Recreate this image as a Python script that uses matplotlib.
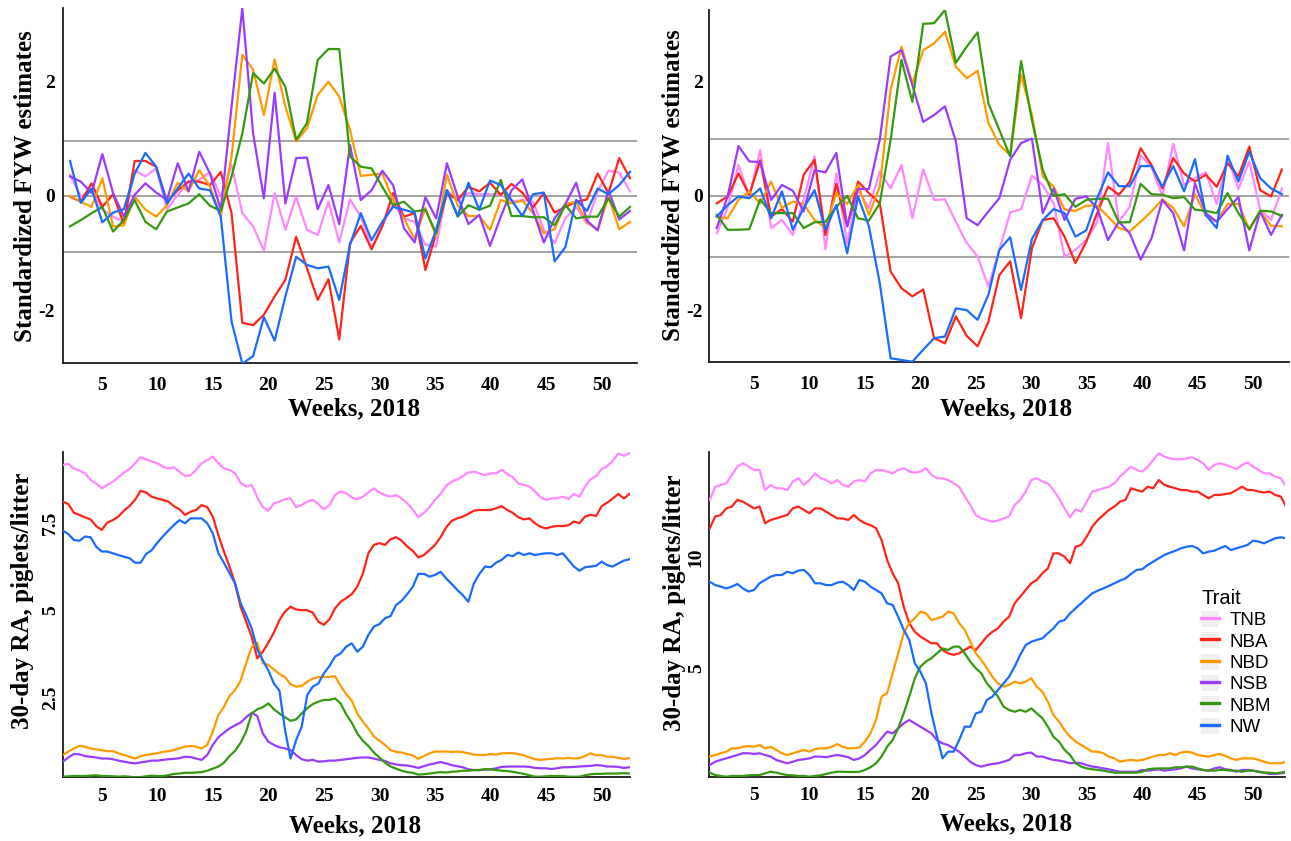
import numpy as np
import matplotlib
matplotlib.use("Agg")
import matplotlib.pyplot as plt
from matplotlib.lines import Line2D
from matplotlib.patches import Patch
from matplotlib.legend_handler import HandlerTuple

plt.rcParams["font.family"] = ["Liberation Serif", "DejaVu Serif"]
plt.rcParams["font.weight"] = "bold"
plt.rcParams["axes.unicode_minus"] = False

# ---------------- data ----------------
traits = ["TNB", "NBA", "NBD", "NSB", "NBM", "NW"]
trait_colors = ["#FF88FF", "#FF2419", "#FF9A00", "#9B3BFF", "#35990F", "#1A6BFF"]

week_ticks = [5, 10, 15, 20, 25, 30, 35, 40, 45, 50]
week_tick_labels = ["5", "10", "15", "20", "25", "30", "35", "40", "45", "50"]
fyw_yticks = [-2, 0, 2]
fyw_ytick_labels = ["-2", "0", "2"]
ra_left_yticks = [2.5, 5, 7.5]
ra_left_ytick_labels = ["2.5", "5", "7.5"]
ra_right_yticks = [5, 10]
ra_right_ytick_labels = ["5", "10"]

# weekly standardized FYW estimates (53 weeks)
fyw_weeks_left = np.linspace(2.15, 52.55, 53)
fyw_weeks_right = np.linspace(1.64, 52.6, 53)

tl_tnb = [0.37,-0.01,0.10,-0.24,-0.36,-0.45,0.45,0.34,0.48,-0.23,0.02,0.25,0.28,0.42,-0.01,0.54,-0.30,-0.53,-0.95,0.05,-0.59,-0.01,-0.59,-0.68,-0.10,
          -0.81,-0.06,-0.36,-0.91,-0.51,-0.14,-0.39,-0.45,-0.85,-0.88,0.10,-0.07,0.05,0.03,0.03,0.03,-0.10,-0.07,-0.10,-0.59,-0.82,-0.39,-0.19,-0.48,0.08,0.44,0.41,0.08]
tl_nba = [-0.01,-0.10,0.22,-0.19,0.03,-0.49,0.61,0.61,0.51,-0.10,0.10,0.25,0.25,0.19,0.42,-0.30,-2.21,-2.25,-2.07,-1.75,-1.46,-0.71,-1.26,-1.81,-1.45,
          -2.50,-0.82,-0.52,-0.93,-0.53,0.05,-0.36,-0.30,-1.29,-0.65,0.05,-0.07,0.16,0.08,0.23,0.02,0.21,0.06,-0.20,0.05,-0.29,-0.19,-0.10,-0.06,0.39,0.05,0.66,0.31]
tl_nbd = [0.00,-0.10,-0.19,0.31,-0.53,-0.51,-0.01,-0.24,-0.36,-0.16,0.23,0.08,0.45,0.16,-0.36,0.69,2.46,2.20,1.41,2.38,1.56,0.95,1.18,1.76,1.99,
          1.73,1.15,0.35,0.37,0.39,-0.07,-0.39,-0.75,-0.21,-0.71,0.37,-0.16,-0.35,-0.35,-0.59,-0.07,-0.13,-0.08,-0.30,-0.65,-0.58,-0.14,-0.10,-0.46,-0.59,-0.01,-0.58,-0.45]
tl_nsb = [0.34,0.25,0.05,0.73,0.05,-0.36,0.02,0.22,0.06,-0.07,0.57,0.08,0.77,0.39,-0.24,1.56,3.27,1.09,-0.04,1.80,-0.13,0.66,0.67,-0.23,0.19,
          -0.49,0.89,-0.07,0.10,0.44,0.19,-0.56,-0.81,-0.02,-0.39,0.57,-0.01,-0.49,-0.33,-0.87,-0.36,0.10,0.29,-0.26,-0.81,-0.39,-0.14,0.23,-0.43,-0.60,0.10,-0.41,-0.26]
tl_nbm = [-0.53,-0.42,-0.30,-0.19,-0.62,-0.42,-0.07,-0.45,-0.58,-0.27,-0.20,-0.13,0.03,-0.17,-0.26,0.34,1.09,2.14,1.96,2.22,1.90,0.98,1.27,2.37,2.56,
          2.56,0.69,0.51,0.48,0.16,-0.16,-0.10,-0.27,-0.24,-0.65,0.10,-0.36,-0.16,-0.24,-0.17,0.28,-0.35,-0.35,-0.37,-0.37,-0.51,-0.16,-0.39,-0.36,-0.36,-0.04,-0.36,-0.19]
tl_nw = [0.61,-0.12,0.13,-0.46,-0.29,-0.23,0.39,0.75,0.51,-0.13,0.13,0.39,0.13,0.10,-0.36,-2.19,-2.92,-2.79,-2.11,-2.52,-1.75,-1.06,-1.20,-1.26,-1.23,
         -1.81,-0.85,-0.30,-0.77,-0.45,-0.19,-0.24,-0.29,-1.09,-0.59,0.10,-0.35,0.23,-0.24,0.27,0.19,-0.07,-0.35,0.03,0.06,-1.14,-0.89,-0.07,-0.26,0.13,0.03,0.19,0.42]

tr_tnb = [-0.65,-0.21,0.54,-0.01,0.80,-0.56,-0.42,-0.68,-0.07,0.69,-0.93,0.39,-0.82,0.10,-0.21,0.42,0.13,0.54,-0.39,0.46,-0.07,-0.06,-0.45,-0.82,-1.06,
          -1.58,-0.94,-0.29,-0.23,0.35,0.19,-0.13,-1.06,-0.94,-0.77,-0.46,0.92,-0.45,-0.19,0.71,0.51,-0.01,0.91,0.19,0.31,0.41,-0.14,0.69,0.12,0.60,-0.24,-0.42,0.13]
tr_nba = [-0.13,-0.01,0.39,0.02,0.62,-0.36,-0.23,-0.45,0.37,0.63,-0.68,0.21,-0.53,0.25,0.05,-0.13,-1.32,-1.61,-1.75,-1.63,-2.48,-2.57,-2.10,-2.44,-2.62,
          -2.19,-1.38,-1.14,-2.13,-0.91,-0.42,-0.39,-0.71,-1.17,-0.80,-0.30,0.16,0.02,0.25,0.83,0.54,0.13,0.66,0.39,0.25,0.37,0.16,0.57,0.34,0.86,0.10,-0.01,0.46]
tr_nbd = [-0.36,-0.39,-0.07,0.08,-0.13,0.25,-0.21,-0.10,-0.14,-0.42,-0.56,0.05,-0.14,0.19,-0.33,0.16,1.85,2.60,1.96,2.54,2.66,2.86,2.25,2.05,2.18,
          1.27,0.89,0.71,2.11,1.41,0.34,0.16,-0.24,-0.26,-0.17,-0.17,-0.36,-0.56,-0.62,-0.45,-0.27,-0.06,-0.21,-0.53,0.03,-0.35,-0.45,-0.14,-0.14,-0.59,-0.27,-0.52,-0.53]
tr_nsb = [-0.56,-0.01,0.87,0.60,0.59,-0.07,0.19,0.09,-0.27,0.45,0.41,0.75,-0.53,0.12,0.12,0.98,2.43,2.54,1.93,1.29,1.41,1.56,0.95,-0.39,-0.51,
          -0.27,-0.04,0.63,0.92,1.00,-0.30,0.13,-0.42,-0.05,-0.01,-0.21,-0.77,-0.45,-0.65,-1.11,-0.74,-0.07,-0.30,-0.95,0.22,-0.30,-0.45,-0.23,-0.02,-0.95,-0.27,-0.68,-0.33]
tr_nbm = [-0.33,-0.59,-0.59,-0.58,-0.06,-0.30,-0.30,-0.30,-0.56,-0.46,-0.45,-0.19,0.00,-0.39,-0.43,-0.13,0.98,2.37,1.64,3.00,3.01,3.24,2.32,2.60,2.85,
          1.61,1.15,0.69,2.35,1.32,0.45,0.00,0.03,-0.19,-0.07,-0.05,-0.05,-0.46,-0.46,0.21,0.03,0.02,-0.04,-0.02,-0.24,-0.26,-0.30,0.05,-0.30,-0.58,-0.26,-0.27,-0.35]
tr_nw = [-0.36,-0.16,-0.01,-0.04,0.13,-0.39,0.08,-0.59,-0.21,0.10,-0.59,-0.16,-1.00,-0.01,-0.53,-1.52,-2.83,-2.86,-2.89,-2.68,-2.48,-2.45,-1.96,-1.99,-2.16,
         -1.72,-0.94,-0.72,-1.64,-0.75,-0.42,-0.23,-0.30,-0.71,-0.60,-0.04,0.41,0.17,0.17,0.52,0.52,0.16,0.52,0.08,0.64,-0.33,-0.56,0.70,0.25,0.77,0.31,0.13,0.03]

# 30-day rolling averages, piglets/litter (read every half week)
ra_weeks_left = np.arange(1.5, 52.51, 0.5)
ra_weeks_right = np.arange(1.0, 53.01, 0.5)

bl_tnb = [9.16,9.19,9.06,9.00,8.92,8.73,8.63,8.49,8.59,8.68, 8.81,8.94,9.04,9.21,9.38,9.32,9.26,9.21,9.11,9.06,
          9.09,8.97,8.84,8.87,9.02,9.21,9.30,9.40,9.21,9.06, 9.02,8.92,8.65,8.54,8.59,8.23,7.95,7.85,8.06,8.11,
          8.18,8.20,7.95,8.01,8.11,8.16,8.04,7.89,8.01,8.30, 8.40,8.35,8.23,8.18,8.25,8.37,8.49,8.37,8.30,8.25,
          8.30,8.20,8.06,7.89,7.66,7.79,7.95,8.16,8.33,8.56, 8.68,8.75,8.84,8.94,8.97,8.92,8.87,8.92,8.92,9.02,
          8.90,8.81,8.63,8.59,8.54,8.40,8.23,8.16,8.20,8.21, 8.25,8.18,8.33,8.25,8.54,8.75,8.84,9.04,9.13,9.28,
          9.49,9.42,9.50]
bl_nba = [8.11,8.04,7.79,7.73,7.66,7.60,7.41,7.30,7.51,7.58, 7.68,7.85,7.98,8.16,8.42,8.37,8.25,8.20,8.16,8.11,
          7.98,7.89,7.73,7.82,7.87,8.01,7.95,7.68,7.15,6.68, 6.25,5.77,5.10,4.67,4.24,3.62,3.81,4.07,4.36,4.72,
          4.96,5.10,5.02,5.00,5.00,4.93,4.67,4.58,4.74,5.05, 5.24,5.34,5.46,5.67,6.04,6.63,6.87,6.92,6.87,7.03,
          7.09,6.99,6.82,6.70,6.51,6.58,6.72,6.87,7.09,7.37, 7.56,7.63,7.68,7.76,7.85,7.87,7.87,7.87,7.92,7.98,
          7.87,7.79,7.66,7.60,7.63,7.49,7.39,7.34,7.39,7.41, 7.41,7.43,7.54,7.49,7.68,7.73,7.70,7.98,8.08,8.20,
          8.33,8.20,8.33]
bl_nbd = [0.85,0.95,1.04,1.11,1.09,1.04,1.01,0.99,0.96,0.96, 0.90,0.85,0.80,0.75,0.82,0.85,0.88,0.90,0.94,0.96,
          0.99,1.04,1.09,1.11,1.09,1.04,1.14,1.52,2.00,2.23, 2.54,2.71,2.98,3.48,3.94,4.07,3.48,3.43,3.30,3.17,
          3.08,2.88,2.81,2.83,2.95,3.04,3.08,3.09,3.09,3.11, 2.83,2.60,2.41,2.04,1.81,1.61,1.38,1.26,1.14,0.99,
          0.94,0.92,0.88,0.84,0.74,0.82,0.90,0.95,0.95,0.95, 0.94,0.95,0.93,0.90,0.86,0.85,0.85,0.88,0.86,0.90,
          0.90,0.90,0.88,0.84,0.78,0.73,0.71,0.73,0.74,0.76, 0.75,0.77,0.75,0.76,0.82,0.90,0.84,0.85,0.80,0.80,
          0.77,0.74,0.76]
bl_nsb = [0.66,0.78,0.88,0.87,0.82,0.80,0.78,0.75,0.75,0.73, 0.69,0.66,0.63,0.61,0.64,0.66,0.69,0.69,0.71,0.73,
          0.74,0.76,0.80,0.79,0.75,0.71,0.85,1.14,1.36,1.49, 1.61,1.70,1.78,1.93,2.06,1.97,1.47,1.23,1.14,1.07,
          1.04,0.99,0.85,0.73,0.69,0.71,0.66,0.67,0.69,0.69, 0.71,0.73,0.75,0.77,0.78,0.78,0.75,0.71,0.68,0.61,
          0.58,0.56,0.55,0.52,0.48,0.53,0.58,0.61,0.65,0.61, 0.56,0.53,0.50,0.44,0.42,0.42,0.43,0.44,0.47,0.51,
          0.52,0.52,0.52,0.52,0.51,0.48,0.47,0.47,0.45,0.47, 0.50,0.50,0.51,0.52,0.53,0.54,0.56,0.55,0.52,0.52,
          0.51,0.48,0.50]
bl_nbm = [0.23,0.24,0.25,0.25,0.25,0.26,0.27,0.25,0.25,0.24, 0.23,0.24,0.23,0.21,0.22,0.24,0.26,0.25,0.25,0.27,
          0.31,0.32,0.34,0.34,0.35,0.36,0.40,0.46,0.52,0.63, 0.82,0.97,1.20,1.52,2.04,2.16,2.22,2.33,2.16,2.04,
          1.93,1.83,1.87,2.04,2.19,2.31,2.38,2.43,2.43,2.47, 2.33,2.02,1.78,1.47,1.26,1.11,0.92,0.78,0.63,0.52,
          0.46,0.40,0.36,0.34,0.29,0.30,0.32,0.34,0.36,0.35, 0.37,0.38,0.40,0.40,0.42,0.42,0.45,0.44,0.42,0.40,
          0.39,0.37,0.34,0.31,0.27,0.23,0.23,0.24,0.25,0.25, 0.25,0.23,0.23,0.23,0.27,0.30,0.31,0.31,0.32,0.32,
          0.32,0.33,0.32]
bl_nw = [7.28,7.18,7.01,6.99,7.11,7.09,6.82,6.68,6.68,6.63, 6.58,6.53,6.49,6.36,6.36,6.61,6.72,6.93,7.11,7.28,
         7.44,7.58,7.49,7.63,7.63,7.63,7.49,7.20,6.63,6.36, 6.06,5.77,5.20,4.86,4.48,3.88,3.57,3.27,2.90,2.69,
         1.57,0.75,1.28,1.66,2.57,2.81,2.90,3.19,3.40,3.67, 3.76,3.95,4.05,3.81,3.95,4.29,4.53,4.60,4.77,4.83,
         5.15,5.27,5.46,5.67,6.04,6.04,5.96,6.01,6.10,5.91, 5.75,5.58,5.43,5.24,5.77,6.04,6.25,6.23,6.36,6.44,
         6.58,6.55,6.65,6.58,6.63,6.58,6.61,6.63,6.63,6.58, 6.63,6.44,6.25,6.13,6.23,6.25,6.27,6.39,6.29,6.25,
         6.34,6.42,6.46]

br_tnb = [12.56,13.15,13.23,13.30,13.68,14.05,14.20,14.05,13.90,13.90, 13.00,13.23,13.08,13.08,13.00,13.38,13.53,13.23,13.45,13.75,
          13.53,13.45,13.30,13.45,13.23,13.15,13.38,13.45,13.38,13.75, 13.90,13.90,13.83,13.75,13.90,13.98,13.83,13.78,13.83,13.98,
          13.68,13.53,13.53,13.45,13.30,13.15,12.71,12.33,11.88,11.73, 11.66,11.58,11.63,11.73,11.81,12.33,12.56,12.93,13.45,13.53,
          13.38,13.30,13.00,12.63,12.18,11.78,12.14,12.03,12.48,12.93, 13.00,13.08,13.15,13.30,13.60,13.83,14.05,13.90,13.83,14.05,
          14.35,14.65,14.50,14.42,14.38,14.38,14.42,14.47,14.35,14.20, 13.90,14.13,14.20,14.13,14.05,13.93,14.13,14.23,14.05,13.90,
          13.75,13.75,13.60,13.53,13.15]
br_nba = [11.29,11.81,11.88,12.18,12.26,12.56,12.48,12.33,12.18,12.26, 11.51,11.66,11.73,11.81,11.88,12.18,12.26,12.11,11.96,12.18,
          12.18,12.03,11.88,11.73,11.73,11.66,11.88,11.66,11.51,11.43, 11.29,10.76,9.87,9.27,8.82,7.77,7.03,6.65,6.43,6.28,
          6.13,6.13,5.83,5.68,5.61,5.68,5.83,5.98,5.83,6.13, 6.43,6.65,6.80,7.10,7.32,7.92,8.22,8.52,8.82,8.97,
          9.27,9.49,10.16,10.16,10.01,9.72,10.46,10.54,10.91,11.36, 11.66,11.88,12.11,12.26,12.48,12.56,13.08,13.00,12.93,13.15,
          13.08,13.45,13.23,13.15,13.08,13.00,13.00,12.93,12.93,12.78, 12.63,12.78,12.78,12.82,12.86,13.00,13.15,13.00,13.00,12.93,
          12.89,12.93,12.78,12.71,12.23]
br_nbd = [1.05,1.12,1.20,1.27,1.42,1.42,1.49,1.52,1.49,1.57, 1.42,1.49,1.35,1.20,1.12,1.20,1.27,1.35,1.27,1.38,
          1.42,1.42,1.49,1.61,1.49,1.42,1.42,1.46,1.72,2.09, 2.69,3.74,3.89,4.78,5.68,6.58,7.03,7.25,7.55,7.47,
          7.17,7.25,7.32,7.55,7.47,7.03,6.73,6.20,5.68,5.38, 5.01,4.63,4.33,4.19,4.26,4.41,4.33,4.41,4.56,4.19,
          3.96,3.51,2.91,2.62,2.24,1.94,1.72,1.57,1.42,1.27, 1.27,1.20,1.05,0.97,0.82,0.87,0.90,0.87,0.90,0.97,
          1.05,1.12,1.12,1.20,1.12,1.23,1.27,1.23,1.12,1.08, 1.05,1.12,1.17,1.08,0.97,0.90,0.97,0.97,0.97,0.90,
          0.82,0.75,0.75,0.75,0.82]
br_nsb = [0.67,0.82,0.90,0.97,1.05,1.12,1.20,1.20,1.17,1.20, 1.12,1.05,0.90,0.82,0.75,0.82,0.90,0.93,0.97,1.05,
          1.05,1.02,1.08,1.12,1.08,1.02,0.90,0.97,1.12,1.35, 1.57,1.87,2.17,2.09,2.32,2.54,2.69,2.54,2.39,2.24,
          2.09,1.79,1.64,1.57,1.42,1.27,1.05,0.82,0.67,0.60, 0.67,0.72,0.75,0.82,0.90,1.12,1.12,1.20,1.23,1.05,
          1.05,0.97,0.90,0.87,0.82,0.75,0.78,0.75,0.67,0.60, 0.57,0.52,0.48,0.42,0.37,0.37,0.37,0.37,0.45,0.42,
          0.45,0.48,0.42,0.45,0.48,0.52,0.60,0.52,0.48,0.45, 0.42,0.52,0.57,0.48,0.45,0.37,0.45,0.45,0.42,0.37,
          0.33,0.27,0.27,0.30,0.33]
br_nbm = [0.33,0.22,0.18,0.15,0.18,0.18,0.18,0.21,0.22,0.22, 0.30,0.37,0.33,0.27,0.22,0.21,0.18,0.18,0.15,0.18,
          0.21,0.27,0.33,0.37,0.37,0.36,0.36,0.37,0.45,0.57, 0.75,1.05,1.49,1.79,2.32,2.99,3.74,4.56,5.08,5.31,
          5.46,5.68,5.90,5.83,5.98,5.98,5.68,5.31,5.01,4.78, 4.33,4.04,3.74,3.29,3.14,3.06,3.14,3.06,3.21,2.99,
          2.77,2.39,1.94,1.72,1.35,1.12,0.75,0.60,0.52,0.48, 0.45,0.42,0.37,0.33,0.33,0.33,0.33,0.33,0.37,0.48,
          0.51,0.52,0.52,0.52,0.57,0.57,0.60,0.60,0.52,0.45, 0.42,0.42,0.45,0.45,0.42,0.42,0.37,0.42,0.42,0.37,
          0.33,0.33,0.30,0.33,0.37]
br_nw = [8.89,8.74,8.67,8.59,8.67,8.79,8.59,8.45,8.52,8.82, 8.97,9.12,9.19,9.19,9.34,9.27,9.39,9.42,9.19,8.82,
         8.82,8.74,8.74,8.85,8.89,8.74,8.52,8.97,8.89,8.67, 8.52,8.37,7.92,7.85,7.32,6.73,6.28,5.23,4.86,4.33,
         2.99,1.94,0.97,1.27,1.27,1.79,2.39,2.39,2.99,3.06, 3.59,3.74,4.04,4.33,4.63,5.08,5.61,6.05,6.20,6.28,
         6.35,6.58,6.80,7.10,7.17,7.47,7.70,7.92,8.15,8.37, 8.49,8.59,8.70,8.82,8.94,9.04,9.24,9.42,9.45,9.64,
         9.79,9.94,10.09,10.19,10.28,10.39,10.46,10.49,10.39,10.16, 10.24,10.28,10.39,10.49,10.31,10.39,10.46,10.54,10.73,10.69,
         10.61,10.73,10.84,10.88,10.84]

fyw_band_left = [0.95, -0.98]
fyw_band_right = [0.99, -1.06]

# ---------------- figure ----------------
W, H = 1291, 841
fig = plt.figure(figsize=(W / 100, H / 100), dpi=100)


def px_axes(left, top, right, bottom):
    return fig.add_axes([left / W, 1 - bottom / H, (right - left) / W, (bottom - top) / H])


def style_axes(ax, xlim, ylim, yticks, ylabels, ylabel_text, rot, xpad, ypad,
               xlab_pos, ylab_pos):
    ax.set_xlim(*xlim)
    ax.set_ylim(*ylim)
    for s in ("top", "right"):
        ax.spines[s].set_visible(False)
    for s in ("left", "bottom"):
        ax.spines[s].set_color("#1a1a1a")
        ax.spines[s].set_linewidth(1.3)
    ax.set_xticks(week_ticks, week_tick_labels, fontsize=14, fontweight="bold")
    if rot:
        ax.set_yticks(yticks, ylabels, fontsize=14, fontweight="bold", rotation=90, va="center")
    else:
        ax.set_yticks(yticks, ylabels, fontsize=14, fontweight="bold")
    ax.tick_params(length=0)
    ax.tick_params(axis="x", pad=xpad)
    ax.tick_params(axis="y", pad=ypad)
    ax.set_xlabel("Weeks, 2018", fontsize=18, fontweight="bold")
    ax.set_ylabel(ylabel_text, fontsize=18, fontweight="bold")
    ax.xaxis.set_label_coords(*xlab_pos)
    ax.yaxis.set_label_coords(*ylab_pos)
    ax.patch.set_alpha(0)


def draw_series(ax, x, series):
    for vals, col in zip(series, trait_colors):
        ax.plot(x, vals, color=col, lw=1.6, zorder=3, solid_joinstyle="round")


# top-left
ax_tl = px_axes(63.3, 8, 637, 363.3)
for v in fyw_band_left + [0]:
    ax_tl.axhline(v, color="#8a8a8a", lw=1.1, zorder=1)
draw_series(ax_tl, fyw_weeks_left, [tl_tnb, tl_nba, tl_nbd, tl_nsb, tl_nbm, tl_nw])
style_axes(ax_tl, (1.544, 53.18), (-2.915, 3.275), fyw_yticks, fyw_ytick_labels,
           "Standardized FYW estimates", False, 10, 6, (0.507, -0.095), (-0.046, 0.50))

# top-right
ax_tr = px_axes(709.3, 10, 1289, 362.3)
for v in fyw_band_right + [0]:
    ax_tr.axhline(v, color="#8a8a8a", lw=1.1, zorder=1)
draw_series(ax_tr, fyw_weeks_right, [tr_tnb, tr_nba, tr_nbd, tr_nsb, tr_nbm, tr_nw])
style_axes(ax_tr, (0.969, 53.24), (-2.90, 3.24), fyw_yticks, fyw_ytick_labels,
           "Standardized FYW estimates", False, 10, 4.5, (0.5115, -0.0985), (-0.0425, 0.502))

# bottom-left
ax_bl = px_axes(63.3, 451.7, 630, 777.3)
draw_series(ax_bl, ra_weeks_left, [bl_tnb, bl_nba, bl_nbd, bl_nsb, bl_nbm, bl_nw])
style_axes(ax_bl, (1.544, 52.55), (0.212, 9.54), ra_left_yticks, ra_left_ytick_labels,
           "30-day RA, piglets/litter", True, 7.7, 3.3, (0.514, -0.113), (-0.052, 0.542))

# bottom-right
ax_br = px_axes(709.3, 451.7, 1285, 776.7)
draw_series(ax_br, ra_weeks_right, [br_tnb, br_nba, br_nbd, br_nsb, br_nbm, br_nw])
style_axes(ax_br, (0.969, 52.88), (0.148, 14.72), ra_right_yticks, ra_right_ytick_labels,
           "30-day RA, piglets/litter", True, 7.7, 3.3, (0.515, -0.1095), (-0.0405, 0.5345))

# legend
handles = [(Patch(facecolor="#F0F0F0", edgecolor="none"), Line2D([], [], color=c, lw=2.4))
           for c in trait_colors]
leg = fig.legend(handles, traits, handler_map={tuple: HandlerTuple(ndivide=1, pad=0)},
                 loc="upper left", bbox_to_anchor=(1201 / W, 1 - 589 / H),
                 frameon=False, title="Trait", alignment="left",
                 prop={"family": "Liberation Sans", "weight": "normal", "size": 13.5},
                 title_fontproperties={"family": "Liberation Sans", "weight": "normal", "size": 14.5},
                 handlelength=0.95, handleheight=0.95, handletextpad=0.55, labelspacing=0.15,
                 borderpad=0, borderaxespad=0)

fig.savefig("out.png", dpi=100)
